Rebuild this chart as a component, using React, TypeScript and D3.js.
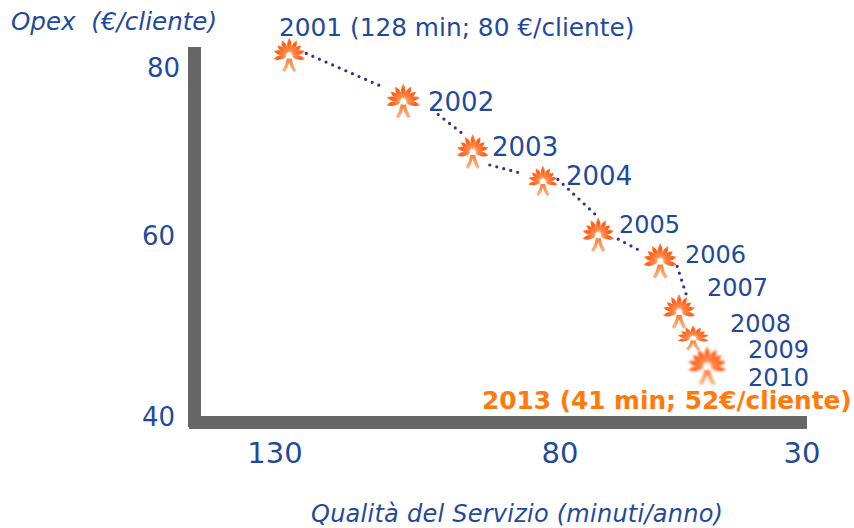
import React, { useMemo } from 'react';
import * as d3 from 'd3';

/* ── Data ──────────────────────────────────────────────────────── */
const markerYears = [2001, 2002, 2003, 2004, 2005, 2006, 2007, 2008, 2010];
const minutes = [127.5, 107.5, 95.3, 83, 72.1, 59.3, 55.4, 52.5, 49.6];
const opex = [81.5, 76, 70, 66.5, 60.1, 57.2, 51.6, 48.7, 45.6];

const xTicks = [130, 80, 30];
const yTicks = [80, 60, 40];

const yearLabels = [
  '2001 (128 min; 80 €/cliente)',
  '2002',
  '2003',
  '2004',
  '2005',
  '2006',
  '2007',
  '2008',
  '2009',
  '2010',
];
const highlightLabel = '2013 (41 min; 52€/cliente)';
const yTitle = 'Opex  (€/cliente)';
const xTitle = 'Qualità del Servizio (minuti/anno)';

/* ── Layout ────────────────────────────────────────────────────── */
const WIDTH = 854;
const HEIGHT = 528;
const FONT = '"DejaVu Sans", Verdana, sans-serif';
const BLUE = '#1f4a9c';
const ORANGE = '#ff7a0a';
const AXIS = '#666666';

// the tick labels are hand placed in the slide, so both scales are piecewise
const x = d3.scaleLinear().domain([130, 80, 30]).range([275, 560, 802]);
const y = d3.scaleLinear().domain([80, 60, 40]).range([68, 236, 417]);

// [x, baseline, font size]
const labelPlacement: [number, number, number][] = [
  [279, 36, 24.8],
  [428, 111, 26],
  [492, 156, 26],
  [566, 185, 26],
  [619, 233, 24],
  [685, 263, 24],
  [707, 296, 24],
  [730, 332, 24],
  [748, 358, 24],
  [748, 386, 24],
];

// marker scale [sx, sy]
const markerScale: [number, number][] = [
  [0.95, 1],
  [1, 1],
  [0.95, 1],
  [0.88, 0.88],
  [0.95, 1],
  [1, 1.02],
  [0.97, 1],
  [0.95, 0.72],
  [1.15, 1.12],
];

// dotted connectors: pixel offsets from the two marker centres
const connectorOffsets: [number, number, number, number][] = [
  [17, -2, -19, -14],
  [35, 13, -11, -19],
  [17, 13, -21, -8],
  [15, -2, 0, -18],
  [20, 4, -17, -9],
  [17, 5, 7, -18],
];

/* ── Marker: a burst of rays with two legs ─────────────────────── */
const rayAngles = [-192, -165, -142, -118, -90, -62, -38, -15, 12];
const rayLengths = [17, 17, 16, 17, 18, 17, 16, 17, 17];

function rayPath(angleDeg: number, len: number) {
  const a = (angleDeg * Math.PI) / 180;
  const ux = Math.cos(a);
  const uy = Math.sin(a);
  const nx = -uy;
  const ny = ux;
  const w = 3;
  const r0 = 2;
  const p = d3.path();
  p.moveTo(ux * r0, uy * r0);
  p.bezierCurveTo(
    ux * len * 0.4 + nx * w,
    uy * len * 0.4 + ny * w,
    ux * len * 0.75 + nx * w,
    uy * len * 0.75 + ny * w,
    ux * len,
    uy * len
  );
  p.bezierCurveTo(
    ux * len * 0.75 - nx * w,
    uy * len * 0.75 - ny * w,
    ux * len * 0.4 - nx * w,
    uy * len * 0.4 - ny * w,
    ux * r0,
    uy * r0
  );
  p.closePath();
  return p.toString();
}

function legPath(side: number) {
  const p = d3.path();
  p.moveTo(side * 0.8, 3);
  p.quadraticCurveTo(side * 1.8, 10, side * 6, 16);
  return p.toString();
}

const Burst: React.FC<{ cx: number; cy: number; sx: number; sy: number }> = ({ cx, cy, sx, sy }) => (
  <g transform={`translate(${cx},${cy}) scale(${sx},${sy})`} filter="url(#soft)">
    {rayAngles.map((a, i) => (
      <path key={a} d={rayPath(a, rayLengths[i])} fill="url(#rayFill)" />
    ))}
    <path d={legPath(-1)} fill="none" stroke="url(#legFill)" strokeWidth={3.4} />
    <path d={legPath(1)} fill="none" stroke="url(#legFill)" strokeWidth={3.4} />
    <circle r={3} fill="#fff" />
  </g>
);

export default function App() {
  const centres = useMemo(() => minutes.map((m, i) => [x(m), y(opex[i])] as [number, number]), []);
  const line = d3.line();

  return (
    <svg
      width={WIDTH}
      height={HEIGHT}
      viewBox={`0 0 ${WIDTH} ${HEIGHT}`}
      style={{ position: 'absolute', left: 0, top: 0, background: '#fff' }}
      fontFamily={FONT}
    >
      <defs>
        <filter id="soft" x="-20%" y="-20%" width="140%" height="140%">
          <feGaussianBlur stdDeviation="0.75" />
        </filter>
        <radialGradient id="rayFill" gradientUnits="userSpaceOnUse" cx="0" cy="0" r="18">
          <stop offset="0" stopColor="#ffe0cc" />
          <stop offset="0.3" stopColor="#ff8a4a" />
          <stop offset="0.7" stopColor="#ff5c14" />
          <stop offset="1" stopColor="#ff9c66" />
        </radialGradient>
        <linearGradient id="legFill" gradientUnits="userSpaceOnUse" x1="0" y1="2" x2="0" y2="16">
          <stop offset="0" stopColor="#ff7a30" />
          <stop offset="1" stopColor="#ffb48a" />
        </linearGradient>
      </defs>

      {/* Axes drawn as thick grey bars */}
      <line x1={194.5} x2={194.5} y1={47} y2={427} stroke={AXIS} strokeWidth={13} />
      <line x1={189} x2={807} y1={422.5} y2={422.5} stroke={AXIS} strokeWidth={13} />

      {/* Tick labels */}
      {yTicks.map(t => (
        <text
          key={t}
          x={t === 80 ? 180 : 175}
          y={y(t)}
          dy="0.36em"
          textAnchor="end"
          fontSize={26}
          fill={BLUE}
        >
          {t}
        </text>
      ))}
      {xTicks.map(t => (
        <text key={t} x={x(t)} y={463} textAnchor="middle" fontSize={29} fill={BLUE}>
          {t}
        </text>
      ))}

      {/* Axis titles */}
      <text x={11} y={30} fontSize={24.6} fontStyle="italic" fill={BLUE} xmlSpace="preserve">
        {yTitle}
      </text>
      <text x={311} y={522} fontSize={24} letterSpacing={0.25} fontStyle="italic" fill={BLUE}>
        {xTitle}
      </text>

      {/* Dotted connectors */}
      {connectorOffsets.map(([dx0, dy0, dx1, dy1], i) => (
        <path
          key={i}
          d={
            line([
              [centres[i][0] + dx0, centres[i][1] + dy0],
              [centres[i + 1][0] + dx1, centres[i + 1][1] + dy1],
            ]) as string
          }
          fill="none"
          stroke="#2e2e96"
          strokeWidth={3.2}
          strokeLinecap="round"
          strokeDasharray="0 7.2"
        />
      ))}

      {/* Markers */}
      {centres.map(([cx, cy], i) => (
        <Burst key={markerYears[i]} cx={cx} cy={cy} sx={markerScale[i][0]} sy={markerScale[i][1]} />
      ))}

      {/* Year labels */}
      {yearLabels.map((label, i) => (
        <text
          key={label}
          x={labelPlacement[i][0]}
          y={labelPlacement[i][1]}
          fontSize={labelPlacement[i][2]}
          fill={BLUE}
        >
          {label}
        </text>
      ))}
      <text x={482} y={409} fontSize={24.8} fontWeight="bold" fill={ORANGE}>
        {highlightLabel}
      </text>
    </svg>
  );
}
